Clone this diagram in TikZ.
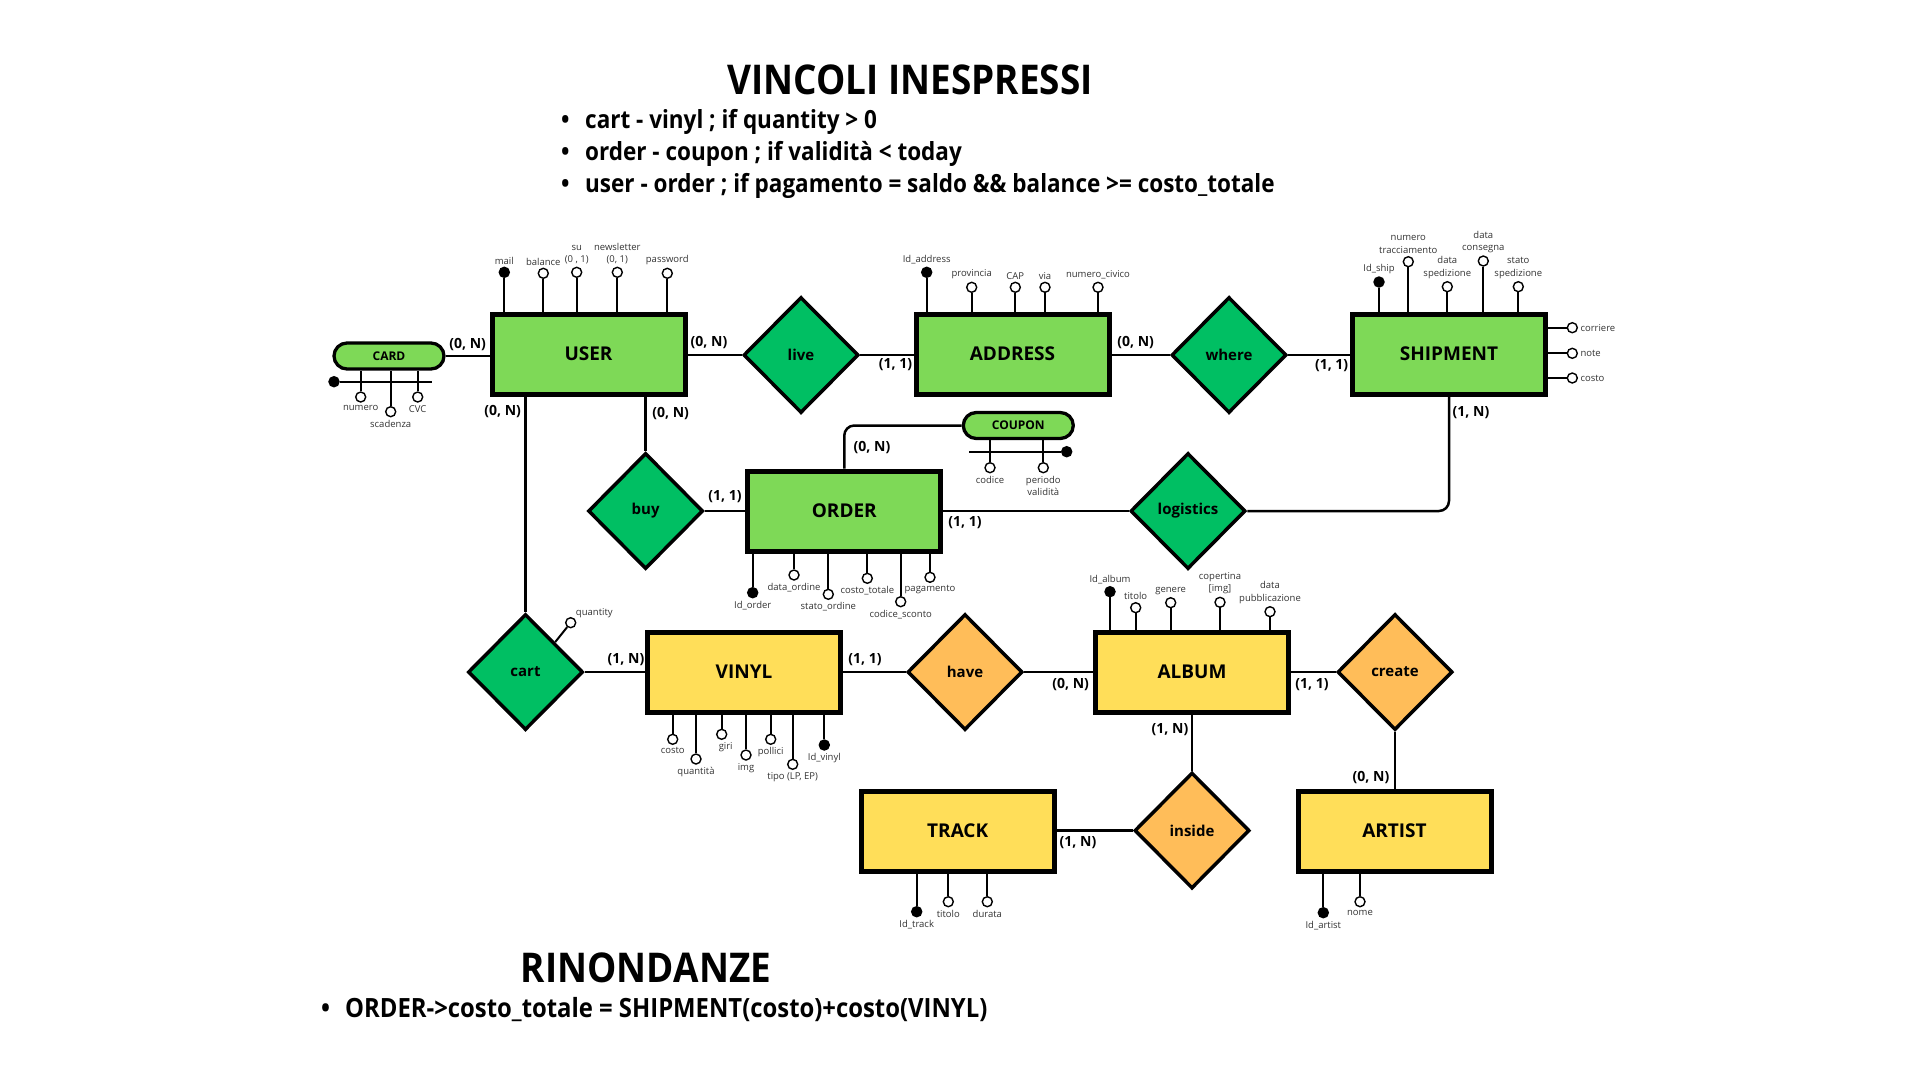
\documentclass[tikz,border=0pt]{standalone}
\usepackage{fontspec}
\setmainfont{Open Sans}
\newfontfamily\condfont{Open Sans}[FakeStretch=0.9]
\usetikzlibrary{shapes.geometric}
\definecolor{entgreen}{HTML}{7ED957}
\definecolor{relgreen}{HTML}{00BF63}
\definecolor{entyellow}{HTML}{FFDE59}
\definecolor{relorange}{HTML}{FFBD59}
\definecolor{lbltxt}{HTML}{333333}
\begin{document}
\begin{tikzpicture}[x=1pt,y=-1pt,
 entity/.style={draw=black, line width=5pt, minimum width=193pt, minimum height=80pt, inner sep=0pt, font=\fontsize{19}{22}\selectfont\bfseries},
 greenent/.style={entity, fill=entgreen},
 yellowent/.style={entity, fill=entyellow},
 rel/.style={diamond, aspect=1, draw=black, line width=3.5pt, minimum width=115pt, minimum height=116pt, inner sep=0pt, font=\fontsize{15}{18}\selectfont\bfseries},
 greenrel/.style={rel, fill=relgreen},
 orangerel/.style={rel, fill=relorange},
 weak/.style={draw=black, line width=3.3pt, fill=entgreen, rounded corners=13pt, minimum width=110pt, minimum height=26pt, inner sep=0pt, font=\fontsize{12}{14}\selectfont\bfseries},
 attr/.style={circle, draw=black, line width=1.4pt, fill=white, minimum size=10pt, inner sep=0pt},
 key/.style={attr, fill=black},
 lbl/.style={font=\fontsize{9.5}{12.5}\selectfont, text=lbltxt, inner sep=0.8pt, align=center},
 every label/.append style={lbl},
 label distance=1.5pt,
 cardn/.style={font=\fontsize{14}{16}\selectfont\bfseries, inner sep=0pt},
 conn/.style={line width=2.5pt},
 stem/.style={line width=2pt},
 ttl/.style={font=\condfont\bfseries\fontsize{41}{48}\selectfont, inner sep=0pt},
 blt/.style={font=\condfont\bfseries\fontsize{25}{29}\selectfont, inner sep=0pt, anchor=west},
]
\useasboundingbox (0,0) rectangle (1920,1080);

% ---- titles
\node[ttl] (title1) at (910,80) {VINCOLI INESPRESSI};
\node[blt] (b1) at (561,121.5) {\makebox[24pt][l]{•}cart - vinyl ; if quantity > 0};
\node[blt] (b2) at (561,153.5) {\makebox[24pt][l]{•}order - coupon ; if validità < today};
\node[blt] (b3) at (561,185.5) {\makebox[24pt][l]{•}user - order ; if pagamento = saldo \&\& balance >= costo\_totale};
\node[ttl] (title2) at (646,968) {RINONDANZE};
\node[blt, font=\condfont\bfseries\fontsize{26.5}{30}\selectfont] (b4) at (321,1010) {\makebox[24pt][l]{•}ORDER->costo\_totale = SHIPMENT(costo)+costo(VINYL)};

% ---- entities
\node[greenent] (USER) at (588.5,354) {USER};
\node[greenent] (ADDRESS) at (1012.5,354) {ADDRESS};
\node[greenent] (SHIPMENT) at (1449,354) {SHIPMENT};
\node[greenent] (ORDER) at (844.3,511) {ORDER};
\node[yellowent] (VINYL) at (744,672) {VINYL};
\node[yellowent] (ALBUM) at (1192,672) {ALBUM};
\node[yellowent] (TRACK) at (957.7,831) {TRACK};
\node[yellowent] (ARTIST) at (1394.5,831) {ARTIST};
\node[weak] (CARD) at (389,356) {CARD};
\node[weak] (COUPON) at (1018.3,425.5) {COUPON};

% ---- relationships
\node[greenrel] (live) at (801,355) {live};
\node[greenrel] (where) at (1229,355) {where};
\node[greenrel] (logistics) at (1188,511) {logistics};
\node[greenrel] (buy) at (645.6,511) {buy};
\node[greenrel] (cart) at (525.5,672) {cart};
\node[orangerel] (have) at (965,672) {have};
\node[orangerel] (create) at (1395,672) {create};
\node[orangerel] (inside) at (1192,830.5) {inside};

% ---- connectors
\draw[conn] (CARD.east) -- (CARD.east -| USER.west);
\draw[conn] (USER.east |- live.west) -- (live.west);
\draw[conn] (live.east) -- (live.east -| ADDRESS.west);
\draw[conn] (ADDRESS.east |- where.west) -- (where.west);
\draw[conn] (where.east) -- (where.east -| SHIPMENT.west);
\draw[conn, rounded corners=10pt] (SHIPMENT.south) |- (logistics.east);
\draw[conn] (ORDER.east |- logistics.west) -- (logistics.west);
\draw[conn, rounded corners=10pt] (ORDER.north) |- (COUPON.west);
\draw[conn] (buy.east) -- (buy.east -| ORDER.west);
\draw[conn] (buy.north |- USER.south) -- (buy.north);
\draw[conn] (cart.north |- USER.south) -- (cart.north);
\draw[conn] (cart.east) -- (cart.east -| VINYL.west);
\draw[conn] (VINYL.east |- have.west) -- (have.west);
\draw[conn] (have.east) -- (have.east -| ALBUM.west);
\draw[conn] (ALBUM.east |- create.west) -- (create.west);
\draw[conn] (create.south) -- (create.south |- ARTIST.north);
\draw[conn] (ALBUM.south) -- (inside.north);
\draw[conn] (inside.west) -- (inside.west -| TRACK.east);

% ---- cardinalities
\node[cardn] (k1) at (467.7,344.3) {(0, N)};
\node[cardn] (k2) at (709,342.7) {(0, N)};
\node[cardn] (k3) at (502.7,411.7) {(0, N)};
\node[cardn] (k4) at (670.7,413.3) {(0, N)};
\node[cardn] (k5) at (895.5,365) {(1, 1)};
\node[cardn] (k6) at (1135.7,342.7) {(0, N)};
\node[cardn] (k7) at (1331.6,366) {(1, 1)};
\node[cardn] (k8) at (1471,412.7) {(1, N)};
\node[cardn] (k9) at (872,448) {(0, N)};
\node[cardn] (k10) at (725,497) {(1, 1)};
\node[cardn] (k11) at (965,523) {(1, 1)};
\node[cardn] (k12) at (626,660) {(1, N)};
\node[cardn] (k13) at (865,660) {(1, 1)};
\node[cardn] (k14) at (1070.6,684.8) {(0, N)};
\node[cardn] (k15) at (1312,685) {(1, 1)};
\node[cardn] (k16) at (1170,730) {(1, N)};
\node[cardn] (k17) at (1371,778) {(0, N)};
\node[cardn] (k18) at (1078,843) {(1, N)};

% ---- USER attributes
\node[key, label=above:mail] (ua1) at (504.3,272.3) {};
\node[attr, label=above:balance] (ua2) at (543.3,273.3) {};
\node[attr, label={above:su\\(0 , 1)}] (ua3) at (576.7,272.3) {};
\node[attr, label={above:newsletter\\(0, 1)}] (ua4) at (617.3,272.3) {};
\node[attr, label=above:password] (ua5) at (667.3,273.3) {};
\foreach \a in {ua1,ua2,ua3,ua4,ua5} \draw[stem] (\a) -- (\a |- USER.north);

% ---- CARD attributes
\node[key] (ck) at (334,381.7) {};
\coordinate (cardlineend) at (431.7,381.7);
\draw[stem] (ck) -- (cardlineend);
\node[attr, label=below:numero] (ca1) at (360.7,397) {};
\node[attr, label=below:scadenza] (ca2) at (390.7,411.7) {};
\node[attr, label=below:CVC] (ca3) at (417.7,397) {};
\foreach \a in {ca1,ca2,ca3} \draw[stem] (\a) -- (\a |- CARD.south);

% ---- ADDRESS attributes
\node[key, label=above:Id\_address] (aa1) at (926.7,272.3) {};
\node[attr, label=above:provincia] (aa2) at (971.7,287.3) {};
\node[attr, label=above:CAP] (aa3) at (1015.3,287.3) {};
\node[attr, label=above:via] (aa4) at (1045,287.3) {};
\node[attr, label=above:numero\_civico] (aa5) at (1098,287.3) {};
\foreach \a in {aa1,aa2,aa3,aa4,aa5} \draw[stem] (\a) -- (\a |- ADDRESS.north);

% ---- SHIPMENT attributes
\node[key, label=above:Id\_ship] (sa1) at (1379,282) {};
\node[attr, label={above:numero\\tracciamento}] (sa2) at (1408.3,261.7) {};
\node[attr, label={above:data\\spedizione}] (sa3) at (1447.3,286.7) {};
\node[attr, label={above:data\\consegna}] (sa4) at (1483.3,261) {};
\node[attr, label={above:stato\\spedizione}] (sa5) at (1518.3,286.7) {};
\foreach \a in {sa1,sa2,sa3,sa4,sa5} \draw[stem] (\a) -- (\a |- SHIPMENT.north);
\node[attr, label=right:corriere] (sa6) at (1572.3,327.7) {};
\node[attr, label=right:note] (sa7) at (1572.3,353.3) {};
\node[attr, label=right:costo] (sa8) at (1572.3,378) {};
\foreach \a in {sa6,sa7,sa8} \draw[stem] (\a) -- (\a -| SHIPMENT.east);

% ---- COUPON attributes
\coordinate (couplinestart) at (969.3,451.7);
\node[key] (cpk) at (1066.7,451.7) {};
\draw[stem] (couplinestart) -- (cpk);
\node[attr, label=below:codice] (cp1) at (990,467.7) {};
\node[attr, label={below:periodo\\validità}] (cp2) at (1043.3,467.7) {};
\foreach \a in {cp1,cp2} \draw[stem] (\a) -- (\a |- COUPON.south);

% ---- ORDER attributes
\node[key, label=below:Id\_order] (oa1) at (752.7,592.7) {};
\node[attr, label=below:data\_ordine] (oa2) at (794,575) {};
\node[attr, label=below:stato\_ordine] (oa3) at (828.3,594.3) {};
\node[attr, label=below:costo\_totale] (oa4) at (867.3,578.3) {};
\node[attr, label=below:codice\_sconto] (oa5) at (900.7,601.7) {};
\node[attr, label=below:pagamento] (oa6) at (930,577.3) {};
\foreach \a in {oa1,oa2,oa3,oa4,oa5,oa6} \draw[stem] (\a) -- (\a |- ORDER.south);

% ---- cart attribute
\node[attr, label={[anchor=south west, inner sep=0pt]north east:quantity}] (qa) at (570.7,622.7) {};
\draw[stem] (qa) -- (cart.north east);

% ---- VINYL attributes
\node[attr, label=below:costo] (va1) at (672.7,739.3) {};
\node[attr, label=below:quantità] (va2) at (696,759) {};
\node[attr, label={[xshift=4pt]below:giri}] (va3) at (721.7,734.3) {};
\node[attr, label=below:img] (va4) at (746,755) {};
\node[attr, label=below:pollici] (va5) at (770.7,739.3) {};
\node[attr, label={below:tipo (LP, EP)}] (va6) at (792.7,764.3) {};
\node[key, label=below:Id\_vinyl] (va7) at (824.3,745) {};
\foreach \a in {va1,va2,va3,va4,va5,va6,va7} \draw[stem] (\a) -- (\a |- VINYL.south);

% ---- ALBUM attributes
\node[key, label=above:Id\_album] (al1) at (1110,591.7) {};
\node[attr, label=above:titolo] (al2) at (1135.7,607.7) {};
\node[attr, label=above:genere] (al3) at (1170.7,602.7) {};
\node[attr, label={above:copertina\\{[img]}}] (al4) at (1220,602.3) {};
\node[attr, label={above:data\\pubblicazione}] (al5) at (1270,611.7) {};
\foreach \a in {al1,al2,al3,al4,al5} \draw[stem] (\a) -- (\a |- ALBUM.north);

% ---- TRACK attributes
\node[key, label=below:Id\_track] (ta1) at (916.7,911.7) {};
\node[attr, label=below:titolo] (ta2) at (948.3,901.7) {};
\node[attr, label=below:durata] (ta3) at (987.3,901.7) {};
\foreach \a in {ta1,ta2,ta3} \draw[stem] (\a) -- (\a |- TRACK.south);

% ---- ARTIST attributes
\node[key, label=below:Id\_artist] (ar1) at (1323.3,912.7) {};
\node[attr, label=below:nome] (ar2) at (1360,901.7) {};
\foreach \a in {ar1,ar2} \draw[stem] (\a) -- (\a |- ARTIST.south);
\end{tikzpicture}
\end{document}
